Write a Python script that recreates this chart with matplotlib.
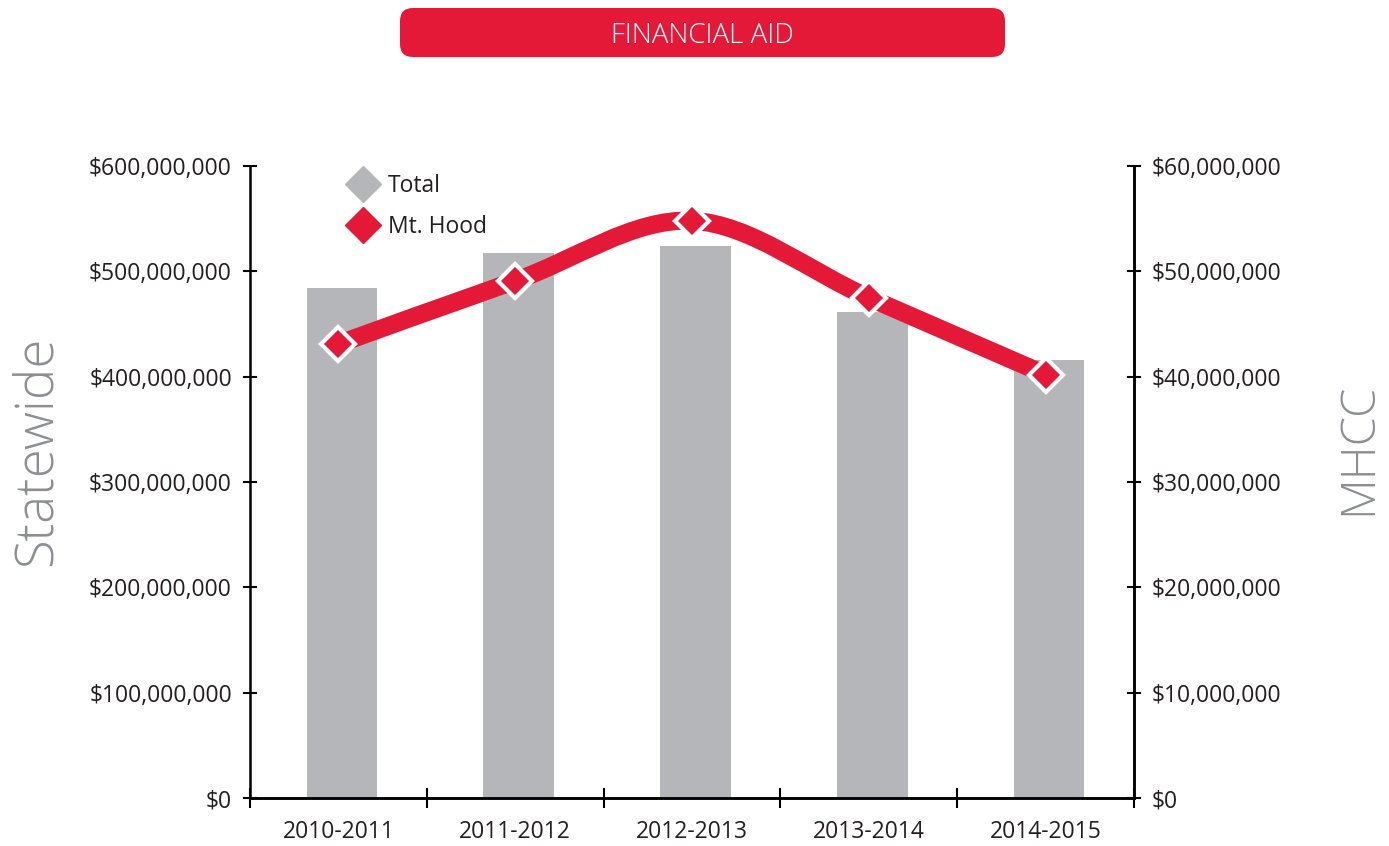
import matplotlib
matplotlib.use("Agg")
import matplotlib.pyplot as plt
from matplotlib.patches import FancyBboxPatch, PathPatch
from matplotlib.path import Path
from matplotlib.lines import Line2D
from matplotlib.ticker import FuncFormatter
import numpy as np

# data
years = ["2010-2011", "2011-2012", "2012-2013", "2013-2014", "2014-2015"]
statewide_total = [484e6, 517e6, 524e6, 461e6, 416e6]
mt_hood = [43.1e6, 49.1e6, 54.8e6, 47.5e6, 40.2e6]

RED = "#e31937"
GRAY = "#b5b6b9"
DARK = "#231f20"
LABEL_GRAY = "#8d8e91"

plt.rcParams['font.family'] = ['Open Sans', 'DejaVu Sans']

fig = plt.figure(figsize=(13.89, 8.46), dpi=100)
W, H = 1389.0, 846.0

ax = fig.add_axes([250 / W, 1 - 798 / H, (1134 - 250) / W, (798 - 166) / H])
ax2 = ax.twinx()

x = np.arange(len(years))
ax.bar(x + 0.02, statewide_total, width=0.4, color=GRAY, zorder=1)
ax.set_xlim(-0.5, 4.5)
ax.set_ylim(0, 600e6)
ax2.set_ylim(0, 60e6)

money = FuncFormatter(lambda v, p: "${:,.0f}".format(v))
ax.yaxis.set_major_formatter(money)
ax2.yaxis.set_major_formatter(money)
ax.set_yticks(np.arange(0, 600e6 + 1, 100e6))
ax2.set_yticks(np.arange(0, 60e6 + 1, 10e6))

# x ticks sit between categories, labels in the middle
ax.set_xticks(np.arange(-0.5, 5, 1.0))
ax.set_xticklabels([])
ax.set_xticks(x, minor=True)
ax.set_xticklabels(years, minor=True)
ax.tick_params(axis="x", which="minor", length=0, pad=16, labelsize=16.5, labelcolor=DARK)
ax.tick_params(axis="x", which="major", direction="inout", length=14, width=1.5)
ax.tick_params(axis="y", direction="inout", length=10, width=1.5, labelsize=16.5,
               labelcolor=DARK, pad=8)
ax2.tick_params(axis="y", direction="inout", length=10, width=1.5, labelsize=16.5,
                labelcolor=DARK, pad=8)

for a in (ax, ax2):
    a.spines["top"].set_visible(False)
    for s in ("left", "right", "bottom"):
        a.spines[s].set_linewidth(1.8)
        a.spines[s].set_color("black")
    a.patch.set_visible(False)
ax2.spines["left"].set_visible(False)

# smooth line through the Mt. Hood points (Catmull-Rom as cubic beziers)
pts = np.column_stack([x, mt_hood]).astype(float)
verts = [tuple(pts[0])]
codes = [Path.MOVETO]
n = len(pts)
for i in range(n - 1):
    p0 = pts[max(i - 1, 0)]
    p1 = pts[i]
    p2 = pts[i + 1]
    p3 = pts[min(i + 2, n - 1)]
    c1 = p1 + (p2 - p0) / 6.0
    c2 = p2 - (p3 - p1) / 6.0
    verts += [tuple(c1), tuple(c2), tuple(p2)]
    codes += [Path.CURVE4] * 3
ax2.add_patch(PathPatch(Path(verts, codes), facecolor="none", edgecolor=RED,
                        linewidth=13, capstyle="round", zorder=3))
ax2.plot(x, mt_hood, linestyle="none", marker="D", markersize=17,
         markerfacecolor=RED, markeredgecolor="white", markeredgewidth=3, zorder=4)

# legend
handles = [
    Line2D([], [], linestyle="none", marker="D", markersize=18, color=GRAY),
    Line2D([], [], linestyle="none", marker="D", markersize=18, color=RED),
]
leg = ax.legend(handles, ["Total", "Mt. Hood"], loc="upper left",
                bbox_to_anchor=(0.085, 1.02), frameon=False, fontsize=16.5,
                handletextpad=0.35, labelspacing=0.75, handlelength=1.5)
for t in leg.get_texts():
    t.set_color(DARK)

# side labels
fig.text(37 / W, 1 - 451 / H, "Statewide", rotation=90, ha="center", va="center",
         fontsize=38, color=LABEL_GRAY, fontweight="light")
fig.text(1359 / W, 1 - 449 / H, "MHCC", rotation=90, ha="center", va="center",
         fontsize=34, color=LABEL_GRAY, fontweight="light")

# title banner
bx = fig.add_axes([400 / W, 1 - 57 / H, 605 / W, 49 / H])
bx.set_xlim(0, 605)
bx.set_ylim(0, 49)
bx.axis("off")
bx.add_patch(FancyBboxPatch((0, 0), 605, 49, boxstyle="round,pad=0,rounding_size=13",
                            facecolor=RED, edgecolor="none"))
bx.text(302.5, 21, "FINANCIAL AID", ha="center", va="center", color="white",
        fontsize=20, fontweight="light")

fig.savefig("out.png", dpi=100)
